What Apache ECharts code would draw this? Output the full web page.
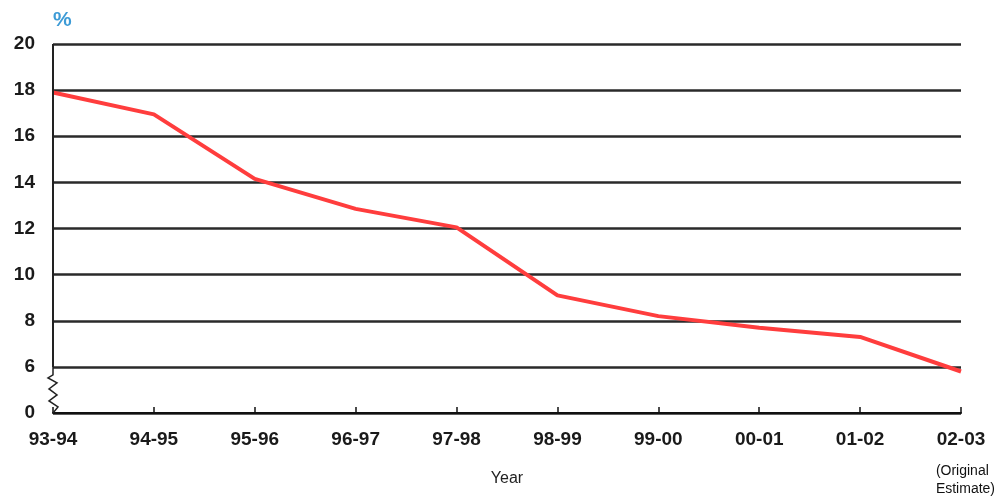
<!DOCTYPE html>
<html>
<head>
<meta charset="utf-8">
<script src="https://cdn.jsdelivr.net/npm/echarts@6/dist/echarts.min.js"></script>
<style>
html,body{margin:0;padding:0;background:#fff;}
#main{width:998px;height:501px;}
</style>
</head>
<body>
<div id="main"></div>
<script>
var categories = ['93-94','94-95','95-96','96-97','97-98','98-99','99-00','00-01','01-02','02-03'];
var values = [17.9, 16.95, 14.15, 12.85, 12.05, 9.1, 8.2, 7.7, 7.3, 5.8];
// the axis is broken: the bottom tick (4 on the scale) is labelled "0"
var axisMin = 4, axisMax = 20, axisStep = 2;
var breakLabel = '0';
var unitLabel = '%';
var xAxisTitle = 'Year';
var lastNote = '(Original\nEstimate)';

var FONT = 'Arial, "Liberation Sans", sans-serif';
var chart = echarts.init(document.getElementById('main'));
chart.setOption({
  animation: false,
  backgroundColor: '#fff',
  title: {
    text: unitLabel, left: 48, top: 5,
    textStyle: {color: '#3d9bd6', fontSize: 21, fontWeight: 'bold', fontFamily: FONT}
  },
  grid: {left: 53, right: 37, top: 44, bottom: 88},
  xAxis: {
    type: 'category', data: categories, boundaryGap: false,
    name: xAxisTitle, nameLocation: 'middle', nameGap: 58,
    nameTextStyle: {color: '#222', fontSize: 16, fontFamily: FONT},
    axisLine: {lineStyle: {color: '#111', width: 2}},
    axisTick: {inside: true, length: 6, lineStyle: {color: '#111', width: 1.5}},
    axisLabel: {color: '#1a1a1a', fontSize: 19, fontWeight: 'bold', fontFamily: FONT, margin: 17}
  },
  yAxis: {
    type: 'value', min: axisMin, max: axisMax, interval: axisStep,
    axisLine: {show: false}, axisTick: {show: false},
    axisLabel: {
      color: '#1a1a1a', fontSize: 19, fontWeight: 'bold', fontFamily: FONT, margin: 18,
      formatter: function (v) { return v === axisMin ? breakLabel : String(v); }
    },
    splitLine: {lineStyle: {color: '#2a2a2a', width: 2.5}}
  },
  series: [{
    type: 'line', data: values, symbol: 'none', smooth: false,
    lineStyle: {color: '#ff3d3d', width: 4}, z: 5
  }]
});

var pTop = chart.convertToPixel({gridIndex: 0}, [0, axisMax]);
var pSix = chart.convertToPixel({gridIndex: 0}, [0, axisMin + axisStep]);
var pZero = chart.convertToPixel({gridIndex: 0}, [0, axisMin]);
var x = pTop[0], y6 = pSix[1], y0 = pZero[1];
var zz = [[x, y6], [x, y6 + 8], [x - 5, y6 + 11], [x + 4, y6 + 16], [x - 4, y6 + 22],
          [x + 4, y6 + 28], [x - 4, y6 + 34], [x + 5, y6 + 40], [x, y0]];
chart.setOption({
  graphic: [
    {type: 'line', shape: {x1: x, y1: pTop[1], x2: x, y2: y6}, style: {stroke: '#222', lineWidth: 2}, z: 10},
    {type: 'polyline', shape: {points: zz}, style: {stroke: '#222', lineWidth: 1.5, fill: null}, z: 10},
    {type: 'text', right: 3, top: 462, style: {text: lastNote, fill: '#111', font: '500 14px ' + FONT, lineHeight: 18}}
  ]
});
</script>
</body>
</html>
